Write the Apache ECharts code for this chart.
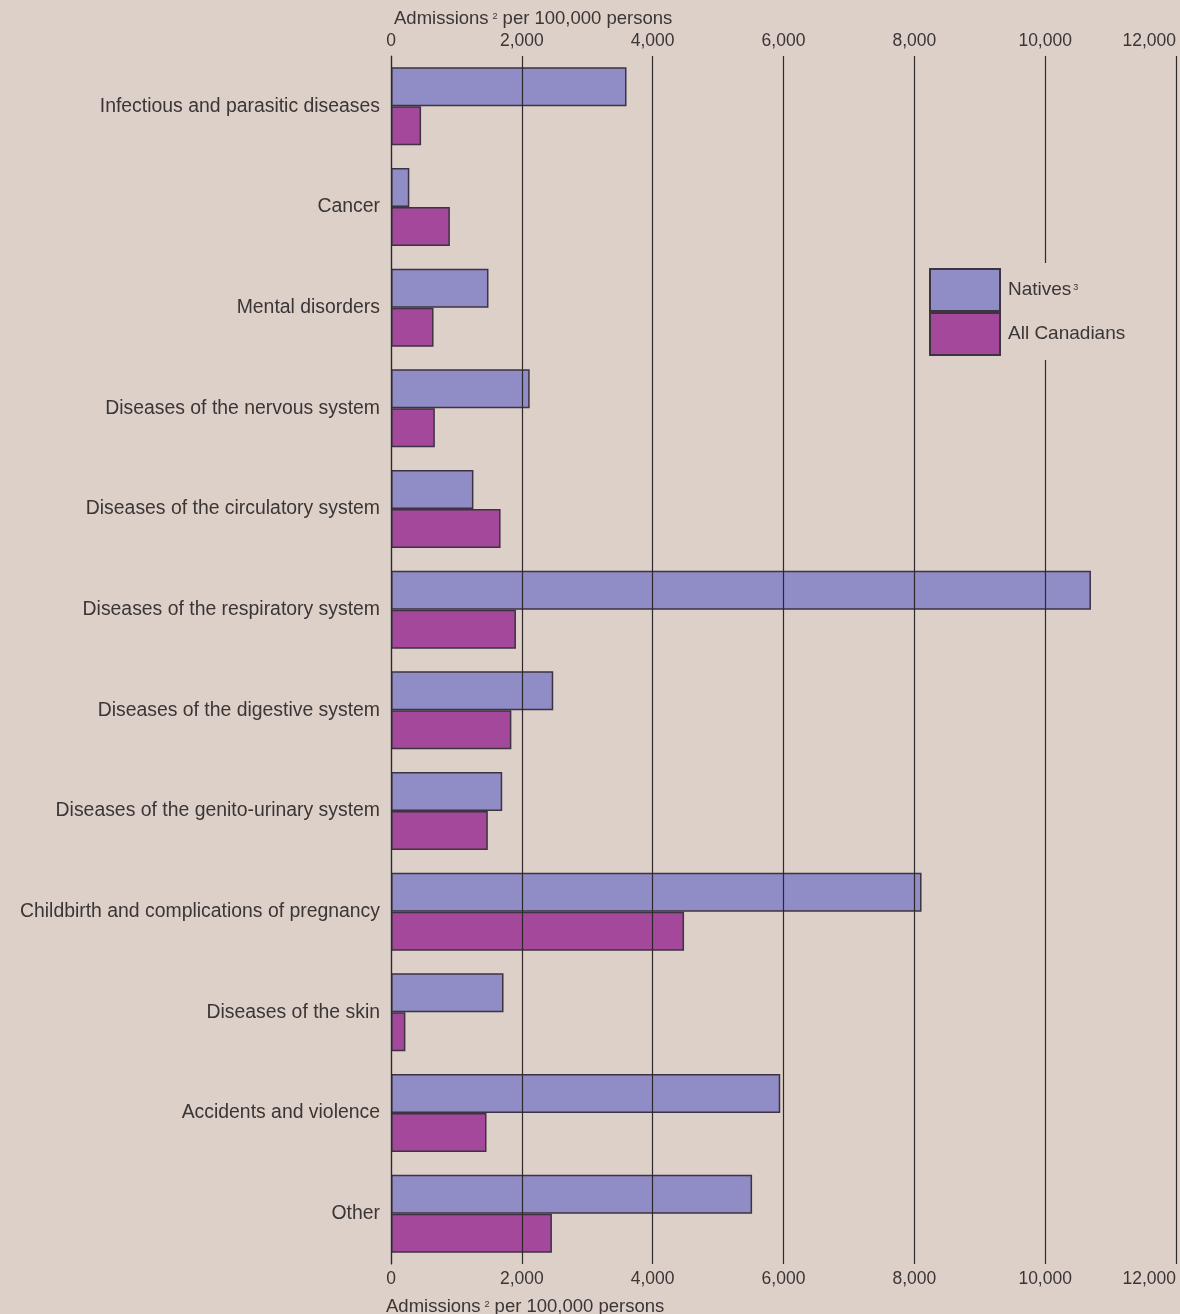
<!DOCTYPE html>
<html>
<head>
<meta charset="utf-8">
<script src="https://cdn.jsdelivr.net/npm/echarts@6/dist/echarts.min.js"></script>
<style>
html,body{margin:0;padding:0;background:#dcd0c9;overflow:hidden;}
#chart{width:1180px;height:1314px;}
</style>
</head>
<body>
<div id="chart"></div>
<script>
var categories = ['Infectious and parasitic diseases','Cancer','Mental disorders','Diseases of the nervous system','Diseases of the circulatory system','Diseases of the respiratory system','Diseases of the digestive system','Diseases of the genito-urinary system','Childbirth and complications of pregnancy','Diseases of the skin','Accidents and violence','Other'];
var natives = [3600, 280, 1490, 2120, 1260, 10700, 2480, 1700, 8110, 1720, 5950, 5520];
var allCanadians = [460, 900, 650, 670, 1675, 1910, 1840, 1480, 4480, 220, 1460, 2460];
var axisTicks = [0, 2000, 4000, 6000, 8000, 10000, 12000];

var FONT = '"Liberation Sans", Arial, sans-serif';
var TXT = '#3b3536';
var titleRich = {
  a: {fontSize: 18.5, fontFamily: FONT, color: TXT, fontWeight: 'normal'},
  s: {fontSize: 9, fontFamily: FONT, color: TXT, fontWeight: 'normal', padding: [0, 5, 4, 4]}
};
function fmt(v){ return v.toLocaleString('en-US'); }

var chart = echarts.init(document.getElementById('chart'));
var xCommon = {
  type: 'value', min: axisTicks[0], max: axisTicks[axisTicks.length-1], interval: 2000,
  axisLine: {show: false}, axisTick: {show: false},
  axisLabel: {formatter: fmt, color: TXT, fontSize: 17.5, fontFamily: FONT, margin: 6, alignMaxLabel: 'right'}
};
chart.setOption({
  backgroundColor: '#dcd0c9',
  animation: false,
  title: [
    {text: '{a|Admissions}{s|2}{a|per 100,000 persons}', left: 389, top: 4, textStyle: {fontWeight: 'normal', rich: titleRich}},
    {text: '{a|Admissions}{s|2}{a|per 100,000 persons}', left: 381, top: 1292, textStyle: {fontWeight: 'normal', rich: titleRich}}
  ],
  grid: {left: 391, right: 4, top: 56, bottom: 50, containLabel: false, outerBoundsMode: 'none'},
  legend: {
    orient: 'vertical', left: 924, top: 263, padding: [5, 8, 4, 5],
    itemWidth: 70, itemHeight: 42, itemGap: 0, z: 6,
    backgroundColor: '#dcd0c9',
    icon: 'rect',
    textStyle: {color: TXT, fontSize: 19, fontFamily: FONT, padding: [0, 0, 0, 3],
      rich: {a: {fontSize: 19, fontFamily: FONT, color: TXT}, s: {fontSize: 9, fontFamily: FONT, color: TXT, padding: [0, 0, 4, 2]}}},
    formatter: function(n){ return n === 'Natives' ? '{a|Natives}{s|3}' : '{a|' + n + '}'; },
    data: ['Natives', 'All Canadians']
  },
  xAxis: [
    Object.assign({}, xCommon, {position: 'top', z: 3,
      splitLine: {show: true, lineStyle: {color: '#2e2a2c', width: 1.2}}}),
    Object.assign({}, xCommon, {position: 'bottom', splitLine: {show: false}})
  ],
  yAxis: {
    type: 'category', data: categories, inverse: true, z: 3,
    axisLine: {show: true, onZero: false, lineStyle: {color: '#2e2a2c', width: 1.2}},
    axisTick: {show: false},
    axisLabel: {color: TXT, fontSize: 19.4, fontFamily: FONT, margin: 11}
  },
  series: [
    {name: 'Natives', type: 'bar', xAxisIndex: 0, data: natives, barWidth: 39, barGap: '0%',
      itemStyle: {color: '#8f8cc6', borderColor: '#3e3340', borderWidth: 1.5}},
    {name: 'All Canadians', type: 'bar', xAxisIndex: 0, data: allCanadians, barWidth: 39, barGap: '0%',
      itemStyle: {color: '#a3489b', borderColor: '#3e3340', borderWidth: 1.5}}
  ]
});
</script>
</body>
</html>
